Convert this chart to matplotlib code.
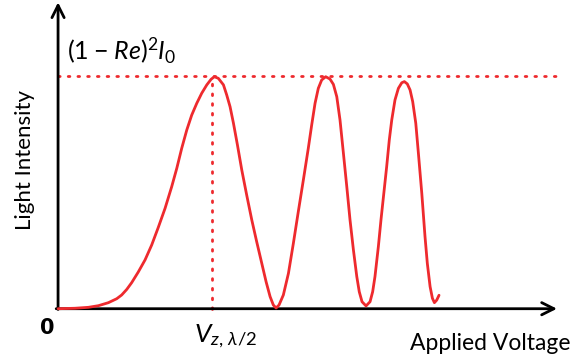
import matplotlib
matplotlib.use('Agg')
from matplotlib import pyplot as plt

plt.rcParams['font.family'] = ['Lato', 'DejaVu Sans']
plt.rcParams['mathtext.fontset'] = 'custom'
plt.rcParams['mathtext.rm'] = 'Lato'
plt.rcParams['mathtext.it'] = 'Lato:italic'

# voltage in units of V_z,lambda/2, intensity in units of (1-Re)^2 I0
voltage = [0.0, 0.110, 0.197, 0.262, 0.327, 0.381, 0.413, 0.446, 0.478, 0.521,
           0.565, 0.608, 0.651, 0.695, 0.738, 0.771, 0.803, 0.836, 0.868, 0.901,
           0.933, 0.966, 0.994, 1.015, 1.041, 1.074, 1.095, 1.117, 1.139, 1.165,
           1.193, 1.225, 1.258, 1.290, 1.323, 1.351, 1.377, 1.398, 1.416, 1.435,
           1.463, 1.496, 1.528, 1.560, 1.593, 1.625, 1.647, 1.669, 1.690, 1.712,
           1.738, 1.766, 1.788, 1.810, 1.831, 1.853, 1.875, 1.896, 1.918, 1.940,
           1.956, 1.974, 2.000, 2.026, 2.043, 2.058, 2.080, 2.097, 2.112, 2.134,
           2.151, 2.167, 2.188, 2.210, 2.232, 2.249, 2.268, 2.286, 2.303, 2.323,
           2.340, 2.362, 2.383, 2.398, 2.416, 2.431, 2.444, 2.459, 2.474]
intensity = [0.0, 0.002, 0.006, 0.013, 0.026, 0.043, 0.059, 0.083, 0.112, 0.158,
             0.210, 0.274, 0.350, 0.432, 0.525, 0.604, 0.690, 0.769, 0.833, 0.884,
             0.927, 0.963, 0.987, 0.998, 0.991, 0.963, 0.920, 0.869, 0.798, 0.704,
             0.597, 0.489, 0.382, 0.288, 0.195, 0.116, 0.052, 0.016, 0.003, 0.016,
             0.059, 0.152, 0.281, 0.417, 0.554, 0.690, 0.790, 0.884, 0.948, 0.984,
             0.998, 0.988, 0.965, 0.912, 0.812, 0.669, 0.525, 0.382, 0.253, 0.138,
             0.073, 0.030, 0.012, 0.030, 0.073, 0.138, 0.267, 0.382, 0.475, 0.611,
             0.726, 0.812, 0.898, 0.948, 0.972, 0.977, 0.967, 0.941, 0.891, 0.798,
             0.669, 0.497, 0.310, 0.195, 0.095, 0.045, 0.026, 0.037, 0.058]

peak_level = 1.0
v_half = 1.0

red = '#EE2A2E'

fig = plt.figure(figsize=(5.73, 3.58), dpi=100)
ax = fig.add_axes([0, 0, 1, 1])
ax.set_xlim(-0.377, 3.344)
ax.set_ylim(-0.212, 1.328)
ax.axis('off')

# axes with open arrow heads
ax.annotate('', xy=(0, 1.318), xytext=(0, -0.003),
            arrowprops=dict(arrowstyle='->', lw=2, color='black',
                            mutation_scale=22, shrinkA=0, shrinkB=0))
ax.annotate('', xy=(3.24, 0), xytext=(-0.012, 0),
            arrowprops=dict(arrowstyle='->', lw=2, color='black',
                            mutation_scale=22, shrinkA=0, shrinkB=0))

# dotted guides
ax.plot([0, 3.24], [peak_level, peak_level], color=red, lw=2,
        linestyle=(0, (0.6, 2.9)), dash_capstyle='round')
ax.plot([v_half, v_half], [0, peak_level], color=red, lw=2,
        linestyle=(0, (0.6, 2.9)), dash_capstyle='round')

ax.plot(voltage, intensity, color=red, lw=2, solid_capstyle='round',
        solid_joinstyle='round', zorder=3)

ax.text(-0.072, -0.083, '0', fontsize=15, fontweight='bold',
        family=['DejaVu Sans'], ha='center', va='center')
ax.text(0.88, -0.118, r'$V_{z,\,\lambda/2}$', fontsize=19,
        ha='left', va='center')
ax.text(3.325, -0.148, 'Applied Voltage', fontsize=16.5, ha='right', va='center')
ax.text(-0.214, 0.64, 'Light Intensity', fontsize=16, rotation=90,
        ha='center', va='center')
ax.text(0.058, 1.07, r'$(1\;\mathrm{-}\;Re)^2I_0$', fontsize=18, ha='left',
        va='baseline')

plt.savefig('out.png', dpi=100)
